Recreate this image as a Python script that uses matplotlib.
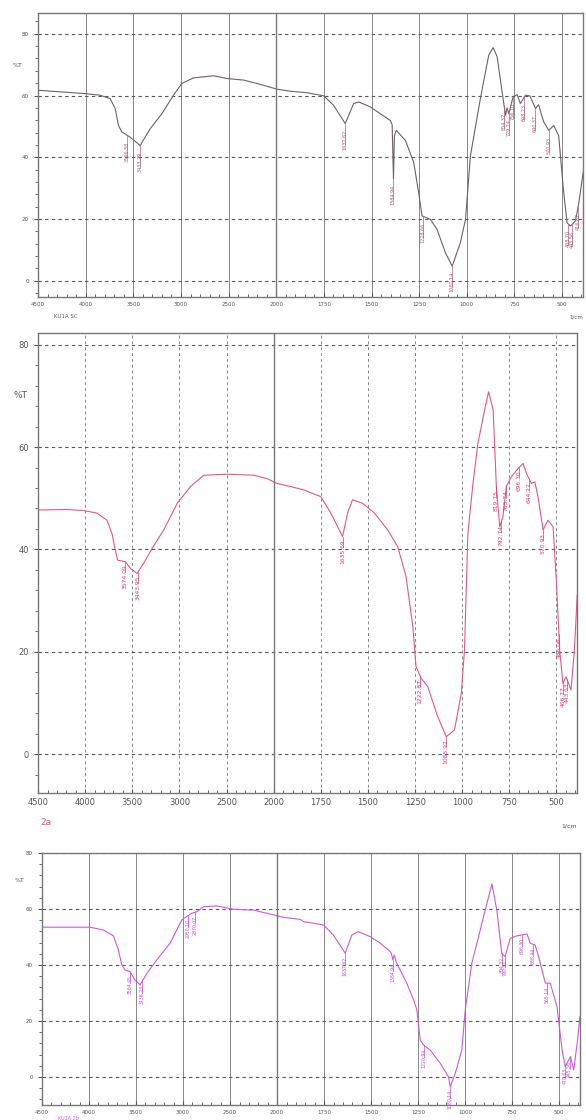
import numpy as np
import matplotlib.pyplot as plt
from matplotlib.ticker import FixedLocator

# three FTIR spectra, wavenumber (1/cm) and %T
wn1 = [4500, 4000, 3850, 3744, 3691, 3656, 3621, 3534, 3429, 3324, 3201, 3079, 2991,
       2869, 2658, 2518, 2343, 2168, 1993, 1926, 1839, 1751, 1699, 1638, 1594, 1568,
       1506, 1454, 1401, 1392, 1385, 1380, 1370, 1322, 1279, 1253, 1235, 1191, 1156,
       1112, 1077, 1034, 1007, 981, 929, 885, 862, 841, 815, 797, 789, 780, 757, 736,
       719, 692, 669, 640, 623, 597, 570, 544, 518, 495, 474, 456, 430, 412, 390]
t1 = [61.7, 60.6, 60.1, 59.0, 55.8, 50.3, 48.2, 46.5, 43.8, 49.2, 54.1, 60.1, 63.9,
      65.7, 66.4, 65.5, 65.0, 63.6, 62.0, 61.4, 60.9, 59.9, 56.8, 50.9, 57.4, 57.9,
      56.3, 54.1, 51.9, 50.5, 33.0, 47.0, 48.7, 45.4, 38.4, 28.6, 21.0, 19.9, 16.6,
      9.0, 4.7, 12.3, 19.9, 40.5, 59.0, 73.1, 75.5, 72.6, 61.2, 53.6, 56.0, 54.1, 59.6, 60.3,
      57.4, 60.1, 59.9, 55.8, 57.0, 51.5, 48.7, 50.3, 47.0, 30.7, 18.8, 17.7, 19.4, 25.3, 35.0]
pk1 = [3566, 3433, 1638, 1385, 1229, 1080, 804, 779, 756, 698, 640, 570, 468, 446, 416]
lb1 = ["3566.38", "3433.29", "1637.62", "1384.94", "1228.66", "1080.14", "804.32",
       "779.24", "756.10", "698.23", "640.37", "570.93", "468.70", "445.56", "416.62"]

wn2 = [4500, 4195, 4018, 3876, 3769, 3716, 3681, 3656, 3574, 3521, 3450, 3380, 3290,
       3167, 3024, 2883, 2741, 2493, 2210, 2067, 1983, 1912, 1839, 1750, 1697, 1635,
       1608, 1582, 1528, 1466, 1395, 1342, 1298, 1262, 1245, 1218, 1183, 1130, 1085,
       1041, 1005, 988, 970, 943, 917, 881, 860, 836, 819, 801, 784, 766, 739, 704, 677,
       660, 633, 615, 598, 571, 545, 518, 500, 483, 466, 449, 423, 405, 390]
t2 = [47.7, 47.8, 47.6, 47.1, 45.7, 43.1, 39.9, 37.9, 37.6, 36.3, 35.3, 37.3, 40.2,
      43.8, 49.0, 52.3, 54.5, 54.7, 54.5, 53.8, 52.9, 52.3, 51.6, 50.3, 47.1, 42.5,
      47.1, 49.7, 49.0, 47.1, 43.8, 40.5, 34.7, 24.9, 17.1, 14.8, 13.2, 7.3, 3.4,
      4.7, 11.9, 20.3, 43.1, 52.9, 60.7, 67.3, 70.8, 67.3, 52.3, 44.4, 46.4, 52.3, 54.2, 55.8, 56.8,
      54.9, 52.9, 53.2, 50.3, 43.8, 45.7, 44.4, 33.4, 20.3, 13.8, 15.1, 12.5, 20.3, 31.0]
pk2 = [3574, 3443, 1635, 1223, 1086, 819, 792, 766, 697, 644, 571, 487, 466, 444]
lb2 = ["3574.09", "3443.95", "1635.69", "1222.87", "1085.92", "819.75", "792.74",
       "765.74", "696.30", "644.22", "570.93", "486.06", "466.77", "443.63"]

wn3 = [4500, 3989, 3848, 3741, 3688, 3652, 3617, 3564, 3511, 3457, 3386, 3280, 3138,
       3014, 2961, 2907, 2854, 2784, 2642, 2465, 2252, 2039, 1966, 1878, 1860, 1754,
       1701, 1638, 1603, 1569, 1505, 1452, 1399, 1392, 1385, 1378, 1364, 1311, 1274,
       1257, 1239, 1222, 1186, 1133, 1089, 1080, 1053, 1018, 1000, 965, 929, 894, 858,
       832, 806, 788, 761, 726, 672, 654, 628, 610, 574, 548, 512, 485, 468, 441, 423,
       405, 390]
t3 = [53.5, 53.5, 52.5, 50.4, 45.4, 40.0, 38.2, 37.6, 34.6, 32.9, 37.0, 41.8, 47.8,
      56.1, 57.3, 58.5, 59.0, 60.8, 61.1, 59.9, 59.6, 57.9, 57.0, 56.3, 55.5, 54.3,
      50.7, 44.2, 50.7, 51.9, 50.1, 47.8, 44.8, 44.0, 41.8, 43.5, 40.6, 33.5, 27.5,
      23.9, 13.2, 11.4, 9.6, 4.9, 0.1, -3.5, 1.3, 9.6, 23.9, 40.6, 50.1, 59.6, 68.9,
      59.6, 44.2, 43.0, 49.5, 50.4, 51.1, 47.8, 47.1, 43.0, 33.5, 33.5, 25.1, 9.6, 3.7, 7.3, 2.5,
      12.0, 21.5]
pk3 = [3564, 3436, 2950, 2870, 1638, 1385, 1220, 1080, 805, 790, 697, 638, 566, 470, 445]
lb3 = ["3564.45", "3436.23", "2950.10", "2870.07", "1637.62", "1384.94", "1220.94",
       "1080.14", "804.32", "790.81", "696.30", "638.44", "565.14", "470.63", "445.56"]

x_major = [4500, 4000, 3500, 3000, 2500, 2000, 1750, 1500, 1250, 1000, 750, 500]
x_minor = list(range(4400, 2000, -100)) + list(range(1950, 399, -50))


def fwd(x):
  x = np.asarray(x, float)
  return np.where(x >= 2000, x, 2 * x - 2000)


def inv(u):
  u = np.asarray(u, float)
  return np.where(u >= 2000, u, (u + 2000) / 2)


def draw(ax, wn, t, pk, lb, ylim, line_c, lab_c, tsize, lsize, gap, vgrid):
  wn = np.array(wn)
  t = np.array(t)
  ax.set_xscale('function', functions=(fwd, inv))
  ax.plot(wn, t, color=line_c, lw=0.8)
  for p, s in zip(pk, lb):
    yv = np.interp(p, wn[::-1], t[::-1])
    ax.plot([p, p], [yv, yv - gap], color=lab_c, lw=0.5)
    ax.text(p, yv - gap * 0.3, s, rotation=90, va='top', ha='center',
            fontsize=lsize, color=lab_c)
  ax.set_xlim(4500, 390)
  ax.set_ylim(*ylim)
  ax.xaxis.set_major_locator(FixedLocator(x_major))
  ax.xaxis.set_minor_locator(FixedLocator(x_minor))
  ax.set_xticklabels([str(v) for v in x_major])
  ax.set_yticks([0, 20, 40, 60, 80])
  ax.yaxis.set_minor_locator(FixedLocator(np.arange(-8, 88, 4)))
  ax.tick_params(axis='x', which='both', direction='in', labelsize=tsize,
                 colors='#555555', length=3)
  ax.tick_params(axis='x', which='minor', length=2)
  ax.tick_params(axis='y', which='both', direction='out', labelsize=tsize,
                 colors='#555555', length=3)
  ax.tick_params(axis='y', which='minor', length=2)
  ax.grid(axis='y', color='#555555', ls=(0, (3, 3)), lw=0.8)
  ax.grid(axis='x', color='#888888', ls=vgrid, lw=0.7)
  ax.axvline(2000, color='#777777', lw=1.0)
  for sp in ax.spines.values():
    sp.set_color('#777777')
    sp.set_linewidth(1.0)


fig = plt.figure(figsize=(5.86, 11.2), dpi=100)

ax1 = fig.add_axes([0.065, 0.735, 0.930, 0.2536])
draw(ax1, wn1, t1, pk1, lb1, (-5.2, 86.8), '#6e6266', '#b0607a', 4, 3.5, 7, '-')
ax1.text(-0.037, 0.81, '%T', transform=ax1.transAxes, fontsize=4.5,
         color='#555555', ha='center')
ax1.text(0.03, -0.075, 'KU1A SC', transform=ax1.transAxes, fontsize=4,
         color='#555555')
ax1.text(1.0, -0.075, '1/cm', transform=ax1.transAxes, fontsize=4,
         color='#555555', ha='right')

ax2 = fig.add_axes([0.065, 0.292, 0.920, 0.4107])
draw(ax2, wn2, t2, pk2, lb2, (-7.6, 82.3), '#e8558c', '#e83a80', 6, 4.3, 2, (0, (3, 3)))
ax2.text(-0.033, 0.859, '%T', transform=ax2.transAxes, fontsize=6.5,
         color='#555555', ha='center')
ax2.text(0.005, -0.07, '2a', transform=ax2.transAxes, fontsize=6.5,
         color='#e05080')
ax2.text(1.0, -0.075, '1/cm', transform=ax2.transAxes, fontsize=4.5,
         color='#555555', ha='right')

ax3 = fig.add_axes([0.0717, 0.0134, 0.918, 0.225])
draw(ax3, wn3, t3, pk3, lb3, (-10, 80), '#cc5ad8', '#d048e0', 4, 3.3, 4, '-')
ax3.text(-0.041, 0.885, '%T', transform=ax3.transAxes, fontsize=4.5,
         color='#555555', ha='center')
ax3.text(0.03, -0.058, 'KU1A 2b', transform=ax3.transAxes, fontsize=3.5,
         color='#d060e0')

fig.savefig('out.png', dpi=100)
